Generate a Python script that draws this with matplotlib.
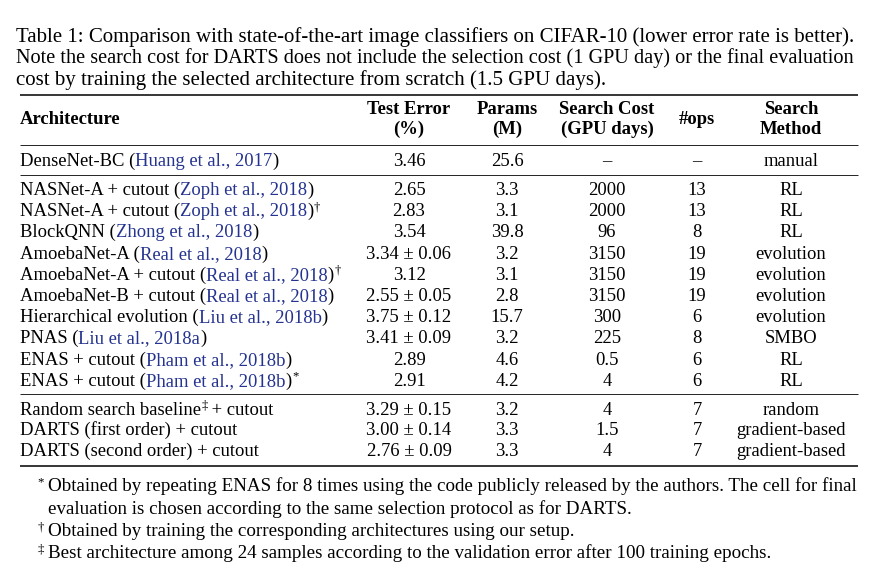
import matplotlib
matplotlib.use("Agg")
import matplotlib.pyplot as plt

plt.rcParams["font.family"] = ["Liberation Serif", "DejaVu Serif"]

# ---- data -------------------------------------------------------------
caption = [
    "Table 1: Comparison with state-of-the-art image classifiers on CIFAR-10 (lower error rate is better).",
    "Note the search cost for DARTS does not include the selection cost (1 GPU day) or the final evaluation",
    "cost by training the selected architecture from scratch (1.5 GPU days).",
]

header_top = ["Test Error", "Params", "Search Cost", "Search"]
header_bot = ["(%)", "(M)", "(GPU days)", "Method"]

# group 1: manual baseline
base_name = ["DenseNet-BC"]
base_cite = ["Huang et al., 2017"]
base_mark = [""]
base_err = ["3.46"]
base_params = ["25.6"]
base_cost = ["–"]
base_ops = ["–"]
base_method = ["manual"]

# group 2: other NAS methods
nas_name = ["NASNet-A + cutout", "NASNet-A + cutout", "BlockQNN", "AmoebaNet-A",
            "AmoebaNet-A + cutout", "AmoebaNet-B + cutout", "Hierarchical evolution",
            "PNAS", "ENAS + cutout", "ENAS + cutout"]
nas_cite = ["Zoph et al., 2018", "Zoph et al., 2018", "Zhong et al., 2018", "Real et al., 2018",
            "Real et al., 2018", "Real et al., 2018", "Liu et al., 2018b",
            "Liu et al., 2018a", "Pham et al., 2018b", "Pham et al., 2018b"]
nas_mark = ["", "†", "", "", "†", "", "", "", "", "*"]
nas_err = ["2.65", "2.83", "3.54", "3.34 ± 0.06", "3.12", "2.55 ± 0.05",
           "3.75 ± 0.12", "3.41 ± 0.09", "2.89", "2.91"]
nas_params = ["3.3", "3.1", "39.8", "3.2", "3.1", "2.8", "15.7", "3.2", "4.6", "4.2"]
nas_cost = ["2000", "2000", "96", "3150", "3150", "3150", "300", "225", "0.5", "4"]
nas_ops = ["13", "13", "8", "19", "19", "19", "6", "8", "6", "6"]
nas_method = ["RL", "RL", "RL", "evolution", "evolution", "evolution",
              "evolution", "SMBO", "RL", "RL"]

# group 3: ours
our_name = [("Random search baseline", "‡", " + cutout"),
            ("DARTS (first order) + cutout", "", ""),
            ("DARTS (second order) + cutout", "", "")]
our_err = ["3.29 ± 0.15", "3.00 ± 0.14", "2.76 ± 0.09"]
our_params = ["3.2", "3.3", "3.3"]
our_cost = ["4", "1.5", "4"]
our_ops = ["7", "7", "7"]
our_method = ["random", "gradient-based", "gradient-based"]

footnotes = [
    ("*", ["Obtained by repeating ENAS for 8 times using the code publicly released by the authors. The cell for final",
           "evaluation is chosen according to the same selection protocol as for DARTS."]),
    ("†", ["Obtained by training the corresponding architectures using our setup."]),
    ("‡", ["Best architecture among 24 samples according to the validation error after 100 training epochs."]),
]

# ---- layout -----------------------------------------------------------
W, H = 896, 584
BLUE = "#24338f"
FS = 13.4      # table font size
FN_FS = 13.7   # footnote font size
CAP_FS = 15.0  # caption font size
col_x = [409, 507, 607, 697, 791]
LEFT, RIGHT = 20, 858

fig = plt.figure(figsize=(W / 100, H / 100), dpi=100)
ax = fig.add_axes([0, 0, 1, 1])
ax.set_xlim(0, W)
ax.set_ylim(H, 0)
ax.axis("off")
renderer = fig.canvas.get_renderer()


def runs(x, y, parts, size=FS):
    """Write pieces of text one after the other on the same baseline."""
    for txt, color, sup in parts:
        if not txt:
            continue
        if sup:
            t = ax.text(x + 0.5, y - 6, txt, fontsize=size * 0.68, color=color, va="baseline")
        else:
            t = ax.text(x, y, txt, fontsize=size, color=color, va="baseline")
        x += t.get_window_extent(renderer).width
    return x


def fitted(x0, x1, y, line, size):
    """Full-width caption line: nudge the size so it spans x0..x1."""
    t = ax.text(x0, y, line, fontsize=size, va="baseline")
    w = t.get_window_extent(renderer).width
    t.set_fontsize(size * (x1 - x0) / w)


def rule(y, lw):
    ax.plot([LEFT, RIGHT], [y, y], color="black", lw=lw, solid_capstyle="butt")


def row(y, left_parts, values):
    runs(LEFT, y, left_parts)
    for cx, v in zip(col_x, values):
        ax.text(cx, y, v, fontsize=FS, ha="center", va="baseline")


# caption (first two lines run the full width, last one ragged)
for i, line in enumerate(caption):
    if i < len(caption) - 1:
        fitted(16, 858, 42 + i * 21.5, line, CAP_FS)
    else:
        ax.text(16, 42 + i * 21.5, line, fontsize=CAP_FS, va="baseline")

# header
rule(94.5, 1.1)
ax.text(LEFT, 124, "Architecture", fontsize=FS, fontweight="bold", va="baseline")
ax.text(col_x[3], 124, "#ops", fontsize=FS, fontweight="bold", ha="center", va="baseline")
for cx, a, b in zip([col_x[0], col_x[1], col_x[2], col_x[4]], header_top, header_bot):
    ax.text(cx, 114, a, fontsize=FS, fontweight="bold", ha="center", va="baseline")
    ax.text(cx, 134, b, fontsize=FS, fontweight="bold", ha="center", va="baseline")
rule(144.5, 0.6)

# group 1
for i in range(len(base_name)):
    row(166, [(base_name[i] + " (", "black", False), (base_cite[i], BLUE, False),
              (")", "black", False), (base_mark[i], "black", True)],
        [base_err[i], base_params[i], base_cost[i], base_ops[i], base_method[i]])
rule(174.5, 0.6)

# group 2
for i in range(len(nas_name)):
    row(195 + i * 21.2,
        [(nas_name[i] + " (", "black", False), (nas_cite[i], BLUE, False),
         (")", "black", False), (nas_mark[i], "black", True)],
        [nas_err[i], nas_params[i], nas_cost[i], nas_ops[i], nas_method[i]])
rule(393.5, 0.6)

# group 3
for i in range(len(our_name)):
    a, m, b = our_name[i]
    row(415 + i * 20.3,
        [(a, "black", False), (m, "black", True), (b, "black", False)],
        [our_err[i], our_params[i], our_cost[i], our_ops[i], our_method[i]])
rule(466, 1.1)

# footnotes
y = 491
for mark, lines in footnotes:
    ax.text(44, y - 6, mark, fontsize=FN_FS * 0.68, ha="right", va="baseline")
    for line in lines:
        ax.text(48, y, line, fontsize=FN_FS, va="baseline")
        y += 22.5

fig.savefig("out.png", dpi=100, facecolor="white")
